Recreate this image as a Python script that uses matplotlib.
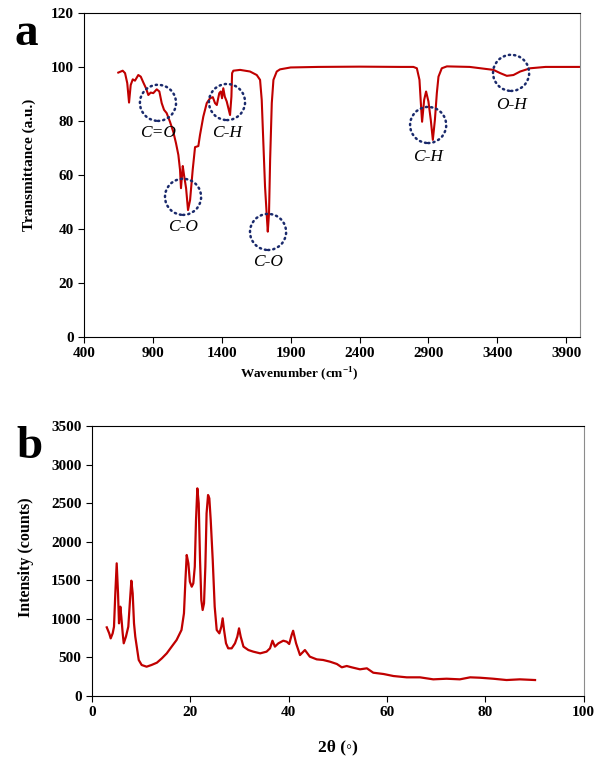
import numpy as np
import matplotlib
matplotlib.use('Agg')
import matplotlib.pyplot as plt

plt.rcParams['font.family'] = ['Liberation Serif', 'DejaVu Serif']
plt.rcParams['font.weight'] = 'bold'
plt.rcParams['mathtext.fontset'] = 'custom'
plt.rcParams['mathtext.rm'] = 'Liberation Serif'
plt.rcParams['mathtext.bf'] = 'Liberation Serif:bold'

# FTIR spectrum
wn = [649, 681, 698, 714, 727, 739, 754, 770, 794, 812, 831, 850, 867, 884, 903,
      928, 947, 964, 981, 1000, 1024, 1048, 1068, 1085, 1097, 1104, 1117, 1126,
      1141, 1155, 1170, 1189, 1199, 1206, 1230, 1242, 1266, 1291, 1315, 1335,
      1351, 1364, 1382, 1393, 1402, 1411, 1422, 1436, 1448, 1460, 1470, 1475,
      1484, 1533, 1605, 1654, 1678, 1690, 1702, 1714, 1727, 1734, 1743, 1751,
      1763, 1775, 1799, 1823, 1900, 2100, 2400, 2700, 2791, 2816, 2835, 2845,
      2854, 2869, 2883, 2900, 2917, 2932, 2947, 2961, 2973, 2997, 3034, 3200,
      3372, 3421, 3469, 3517, 3566, 3639, 3750, 3900, 4000]
trans = [97.9, 98.6, 97.7, 94.0, 86.8, 93.3, 95.4, 94.9, 97.0, 96.4, 94.2, 92.1,
         89.6, 90.5, 90.3, 91.7, 90.9, 86.6, 84.1, 82.9, 79.7, 76.0, 71.7, 67.4,
         61.9, 55.1, 63.3, 60.0, 55.1, 47.0, 50.7, 61.9, 66.8, 70.3, 70.7, 74.8,
         81.6, 86.6, 88.4, 88.8, 86.6, 85.9, 90.3, 90.9, 88.4, 92.1, 89.0, 87.2,
         84.7, 82.2, 89.0, 97.7, 98.6, 98.9, 98.3, 97.0, 95.2, 87.8, 71.7, 55.7,
         44.6, 39.0, 45.9, 65.6, 86.6, 95.2, 98.3, 99.1, 99.8, 100.0, 100.1, 100.0,
         100.0, 99.5, 95.2, 86.6, 79.7, 87.8, 90.9, 87.2, 80.4, 73.0, 80.4, 90.3,
         96.4, 99.5, 100.2, 100.0, 98.9, 97.7, 96.7, 97.0, 98.3, 99.5, 100.0, 100.0,
         100.0]

# band annotations
ann_x = [937, 1119, 1438, 1736, 2898, 3500]
ann_y = [86.7, 51.9, 87.0, 38.9, 78.5, 97.8]
ann_ty = [75.6, 40.7, 75.6, 27.8, 66.7, 86.0]
ann_txt = ['C=O', 'C-O', 'C-H', 'C-O', 'C-H', 'O-H']

# XRD pattern
tt = [3.0, 3.5, 3.8, 4.2, 4.47, 4.74, 5.02, 5.29, 5.49, 5.76, 5.96, 6.24, 6.45,
      6.9, 7.38, 7.73, 8.0, 8.27, 8.54, 8.8, 9.1, 9.5, 10.1, 11.1, 12.1, 13.2,
      14.2, 15.2, 16.2, 17.2, 18.2, 18.7, 19.0, 19.26, 19.6, 19.9, 20.28, 20.6,
      20.9, 21.15, 21.42, 21.7, 21.97, 22.23, 22.5, 22.78, 23.05, 23.3, 23.6,
      23.86, 24.14, 24.55, 24.95, 25.36, 25.9, 26.3, 26.57, 26.85, 27.25, 27.7,
      28.4, 29.08, 29.55, 29.9, 30.24, 30.8, 31.8, 32.8, 34.2, 35.5, 36.2, 36.7,
      37.2, 37.9, 38.9, 39.6, 40.1, 40.6, 40.9, 41.5, 42.3, 43.3, 44.3, 45.7,
      47.0, 48.4, 49.8, 50.8, 51.8, 52.8, 54.5, 55.9, 57.2, 59.3, 61.3, 64.0,
      66.7, 69.4, 72.1, 74.8, 76.9, 78.9, 81.6, 84.3, 87.0, 90.1]
counts = [890, 812, 747, 812, 898, 1331, 1720, 1331, 942, 1158, 1028, 812, 683,
          769, 898, 1244, 1495, 1331, 942, 769, 640, 467, 402, 380, 402, 432,
          488, 553, 640, 726, 856, 1072, 1504, 1828, 1720, 1482, 1417, 1460,
          1676, 2281, 2692, 2498, 1763, 1244, 1115, 1201, 1676, 2368, 2606,
          2563, 2281, 1763, 1158, 856, 812, 898, 1007, 856, 683, 618, 618, 683,
          769, 877, 769, 640, 596, 575, 553, 575, 618, 717, 640, 683, 717, 704,
          674, 791, 846, 683, 531, 596, 510, 475, 467, 445, 415, 372, 389, 372,
          346, 359, 302, 285, 259, 242, 242, 216, 224, 216, 242, 237, 224, 207,
          216, 207]

red = '#c00000'
navy = '#1a2a6c'

fig = plt.figure(figsize=(5.94, 7.59), dpi=100)
ax1 = fig.add_axes([0.1414, 0.556, 0.835, 0.427])
ax2 = fig.add_axes([0.1549, 0.083, 0.8278, 0.3557])

# --- panel a
ax1.plot(wn, trans, color=red, lw=1.5)
ax1.scatter(ann_x, ann_y, s=676, facecolors='none', edgecolors=navy,
            linewidths=1.8, linestyle=(0, (0.5, 1.6)), capstyle='round', zorder=3)
for x, y, t in zip(ann_x, ann_ty, ann_txt):
    ax1.text(x, y, t, ha='center', va='center', fontsize=12.5, style='italic',
             fontweight='normal')
ax1.set_xlim(400, 4000)
ax1.set_ylim(0, 120)
ax1.set_xticks(np.arange(400, 4000, 500))
ax1.set_yticks(np.arange(0, 121, 20))
ax1.set_xlabel('Wavenumber (cm$^{\\mathbf{-1}}$)', fontsize=9.5, fontweight='bold')
ax1.xaxis.set_label_coords(0.433, -0.088)
ax1.set_ylabel('Transmittance (a.u.)', fontsize=11, fontweight='bold')
ax1.yaxis.set_label_coords(-0.097, 0.53)

# --- panel b
ax2.plot(tt, counts, color=red, lw=1.6)
ax2.set_xlim(0, 100)
ax2.set_ylim(0, 3500)
ax2.set_xticks(np.arange(0, 101, 20))
ax2.set_yticks(np.arange(0, 3501, 500))
ax2.set_xlabel('2θ (◦)', fontsize=12.5, fontweight='bold')
ax2.xaxis.set_label_coords(0.5, -0.16)
ax2.set_ylabel('Intensity (counts)', fontsize=11.5, fontweight='bold')
ax2.yaxis.set_label_coords(-0.117, 0.513)

for ax in (ax1, ax2):
    ax.tick_params(direction='out', length=4, width=0.8, labelsize=11)
    for lab in ax.get_xticklabels() + ax.get_yticklabels():
        lab.set_fontweight('bold')
    for sp in ax.spines.values():
        sp.set_linewidth(0.8)
    ax.spines['right'].set_color('#8c8c8c')

fig.text(14 / 594, 1 - 45 / 759, 'a', fontsize=34, fontweight='bold', va='baseline')
fig.text(16 / 594, 1 - 458 / 759, 'b', fontsize=34, fontweight='bold', va='baseline')

plt.savefig('out.png', dpi=100)
